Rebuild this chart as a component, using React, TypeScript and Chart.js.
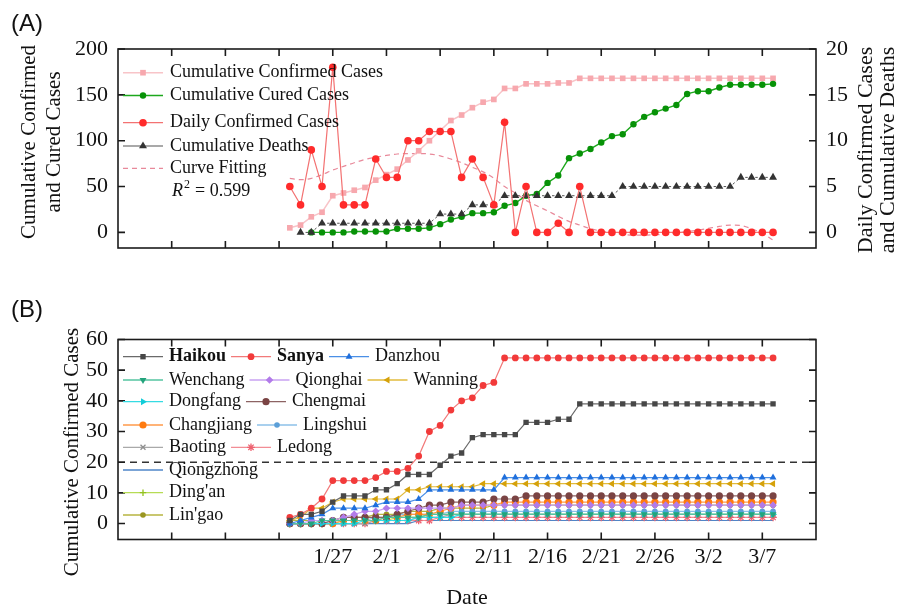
import React, { useEffect, useRef } from 'react';
import { Chart, registerables } from 'chart.js';
import { drawPoint } from 'chart.js/helpers';

Chart.register(...registerables);

const SERIF = '"Liberation Serif", "Times New Roman", serif';
const SANS = '"Liberation Sans", Arial, sans-serif';

// ---------- shared date axis ----------
const dates = [
  '1/23', '1/24', '1/25', '1/26', '1/27', '1/28', '1/29', '1/30', '1/31',
  '2/1', '2/2', '2/3', '2/4', '2/5', '2/6', '2/7', '2/8', '2/9', '2/10',
  '2/11', '2/12', '2/13', '2/14', '2/15', '2/16', '2/17', '2/18', '2/19', '2/20',
  '2/21', '2/22', '2/23', '2/24', '2/25', '2/26', '2/27', '2/28', '2/29',
  '3/1', '3/2', '3/3', '3/4', '3/5', '3/6', '3/7', '3/8',
];
const tickDates = ['1/12', '1/17', '1/22', '1/27', '2/1', '2/6', '2/11', '2/16', '2/21', '2/26', '3/2', '3/7'];
const tickLabels = ['', '', '', '1/27', '2/1', '2/6', '2/11', '2/16', '2/21', '2/26', '3/2', '3/7'];
const axisStartDate = '1/7';
const axisEndDate = '3/12';

// ---------- panel A ----------
const cumConfirmed = [
  5, 8, 17, 22, 40, 43, 46, 49, 57,
  63, 69, 79, 89, 100, 111, 122, 128, 136, 142,
  145, 157, 157, 162, 162, 162, 163, 163, 168, 168,
  168, 168, 168, 168, 168, 168, 168, 168, 168,
  168, 168, 168, 168, 168, 168, 168, 168,
];
const cumCured = [
  null, null, 0, 0, 0, 0, 1, 1, 1,
  1, 4, 4, 4, 5, 9, 14, 17, 21, 21,
  22, 29, 32, 40, 42, 54, 62, 81, 86, 91,
  98, 105, 107, 118, 126, 131, 135, 139, 151,
  154, 154, 158, 161, 161, 161, 161, 162,
];
const dailyConfirmed = [
  5, 3, 9, 5, 18, 3, 3, 3, 8,
  6, 6, 10, 10, 11, 11, 11, 6, 8, 6,
  3, 12, 0, 5, 0, 0, 1, 0, 5, 0,
  0, 0, 0, 0, 0, 0, 0, 0, 0,
  0, 0, 0, 0, 0, 0, 0, 0,
];
const cumDeaths = [
  null, 0, 0, 1, 1, 1, 1, 1, 1,
  1, 1, 1, 1, 1, 2, 2, 2, 3, 3,
  3, 4, 4, 4, 4, 4, 4, 4, 4, 4,
  4, 4, 5, 5, 5, 5, 5, 5, 5,
  5, 5, 5, 5, 6, 6, 6, 6,
];
const curveFit = [
  5.9, 5.75, 5.9, 6.3, 6.8, 7.2, 7.6, 7.95, 8.2,
  8.4, 8.55, 8.6, 8.6, 8.55, 8.35, 8.0, 7.6, 7.1, 6.6,
  5.9, 5.0, 4.3, 3.5, 2.9, 2.35, 1.75, 1.2, 0.8, 0.4,
  0.15, 0.0, -0.2, -0.3, -0.3, -0.25, -0.2, -0.05, 0.1,
  0.25, 0.45, 0.65, 0.8, 0.75, 0.4, -0.1, -0.85,
];
const r2Text = '0.599';
const leftTicksA = [0, 50, 100, 150, 200];
const rightTicksA = [0, 5, 10, 15, 20];

// ---------- panel B ----------
const cityNames = ['Haikou', 'Sanya', 'Danzhou', 'Wenchang', 'Qionghai', 'Wanning', 'Dongfang', 'Chengmai',
  'Changjiang', 'Lingshui', 'Baoting', 'Ledong', 'Qiongzhong', "Ding'an", "Lin'gao"];
const haikou = [
  1, 3, 3, 4, 7, 9, 9, 9, 11,
  11, 13, 16, 16, 16, 19, 22, 23, 28, 29,
  29, 29, 29, 33, 33, 33, 34, 34, 39, 39,
  39, 39, 39, 39, 39, 39, 39, 39, 39,
  39, 39, 39, 39, 39, 39, 39, 39,
];
const sanya = [
  2, 3, 5, 8, 14, 14, 14, 14, 15,
  17, 17, 18, 22, 30, 32, 37, 40, 41, 45,
  46, 54, 54, 54, 54, 54, 54, 54, 54, 54,
  54, 54, 54, 54, 54, 54, 54, 54, 54,
  54, 54, 54, 54, 54, 54, 54, 54,
];
const danzhou = [
  0, 1, 2, 3, 5, 5, 5, 5, 6,
  7, 7, 7, 8, 11, 11, 11, 11, 11, 11,
  11, 15, 15, 15, 15, 15, 15, 15, 15, 15,
  15, 15, 15, 15, 15, 15, 15, 15, 15,
  15, 15, 15, 15, 15, 15, 15, 15,
];
const wenchang = [
  0, 0, 0, 1, 1, 1, 1, 1, 1,
  2, 2, 2, 2, 3, 3, 3, 3, 3, 3,
  3, 3, 3, 3, 3, 3, 3, 3, 3, 3,
  3, 3, 3, 3, 3, 3, 3, 3, 3,
  3, 3, 3, 3, 3, 3, 3, 3,
];
const qionghai = [
  0, 0, 1, 1, 1, 2, 3, 4, 4,
  5, 5, 5, 5, 5, 5, 5, 6, 6, 6,
  6, 6, 6, 6, 6, 6, 6, 6, 6, 6,
  6, 6, 6, 6, 6, 6, 6, 6, 6,
  6, 6, 6, 6, 6, 6, 6, 6,
];
const wanning = [
  1, 2, 5, 5, 7, 8, 8, 8, 8,
  8, 8, 11, 11, 12, 12, 12, 12, 12, 13,
  13, 13, 13, 13, 13, 13, 13, 13, 13, 13,
  13, 13, 13, 13, 13, 13, 13, 13, 13,
  13, 13, 13, 13, 13, 13, 13, 13,
];
const dongfang = [
  0, 0, 0, 0, 0, 0, 0, 1, 1,
  1, 1, 1, 2, 2, 2, 2, 3, 3, 3,
  3, 3, 3, 3, 3, 3, 3, 3, 3, 3,
  3, 3, 3, 3, 3, 3, 3, 3, 3,
  3, 3, 3, 3, 3, 3, 3, 3,
];
const chengmai = [
  0, 0, 0, 0, 1, 2, 2, 2, 2,
  2, 3, 4, 5, 6, 6, 7, 7, 7, 7,
  8, 8, 8, 9, 9, 9, 9, 9, 9, 9,
  9, 9, 9, 9, 9, 9, 9, 9, 9,
  9, 9, 9, 9, 9, 9, 9, 9,
];
const changjiang = [
  0, 0, 0, 0, 0, 1, 1, 1, 1,
  2, 2, 3, 3, 3, 4, 5, 6, 6, 6,
  6, 7, 7, 7, 7, 7, 7, 7, 7, 7,
  7, 7, 7, 7, 7, 7, 7, 7, 7,
  7, 7, 7, 7, 7, 7, 7, 7,
];
const lingshui = [
  0, 0, 0, 0, 1, 1, 1, 1, 2,
  2, 3, 3, 3, 3, 3, 4, 4, 4, 4,
  4, 4, 4, 4, 4, 4, 4, 4, 4, 4,
  4, 4, 4, 4, 4, 4, 4, 4, 4,
  4, 4, 4, 4, 4, 4, 4, 4,
];
const baoting = [
  0, 0, 0, 0, 0, 0, 0, 0, 1,
  1, 1, 1, 2, 2, 2, 3, 3, 3, 3,
  3, 3, 3, 3, 3, 3, 3, 3, 3, 3,
  3, 3, 3, 3, 3, 3, 3, 3, 3,
  3, 3, 3, 3, 3, 3, 3, 3,
];
const ledong = [
  0, 0, 0, 0, 0, 0, 0, 0, 1,
  1, 1, 1, 1, 1, 2, 2, 2, 2, 2,
  2, 2, 2, 2, 2, 2, 2, 2, 2, 2,
  2, 2, 2, 2, 2, 2, 2, 2, 2,
  2, 2, 2, 2, 2, 2, 2, 2,
];
const qiongzhong = [
  0, 0, 0, 0, 0, 0, 0, 0, 0,
  0, 0, 0, 1, 1, 1, 1, 1, 1, 1,
  1, 1, 1, 1, 1, 1, 1, 1, 1, 1,
  1, 1, 1, 1, 1, 1, 1, 1, 1,
  1, 1, 1, 1, 1, 1, 1, 1,
];
const dingan = [
  0, 0, 0, 0, 0, 1, 1, 1, 1,
  1, 2, 2, 2, 3, 3, 3, 3, 3, 3,
  3, 3, 3, 3, 3, 3, 3, 3, 3, 3,
  3, 3, 3, 3, 3, 3, 3, 3, 3,
  3, 3, 3, 3, 3, 3, 3, 3,
];
const lingao = [
  1, 1, 1, 1, 1, 2, 2, 2, 3,
  3, 3, 4, 4, 4, 5, 5, 5, 5, 5,
  6, 6, 6, 6, 6, 6, 6, 6, 6, 6,
  6, 6, 6, 6, 6, 6, 6, 6, 6,
  6, 6, 6, 6, 6, 6, 6, 6,
];
const citySeries = [haikou, sanya, danzhou, wenchang, qionghai, wanning, dongfang, chengmai,
  changjiang, lingshui, baoting, ledong, qiongzhong, dingan, lingao];
const thresholdValue = 20;
const leftTicksB = [0, 10, 20, 30, 40, 50, 60];

// ---------- styles ----------
const cityStyles = [
  { line: '#6a6a6a', point: '#474747', style: 'rect', r: 3.8, rot: 0, bw: 0, bold: true },
  { line: '#f27a7a', point: '#f23a3a', style: 'circle', r: 3.4, rot: 0, bw: 0, bold: true },
  { line: '#4a8fe6', point: '#1f6fdc', style: 'triangle', r: 4, rot: 0, bw: 0 },
  { line: '#55c4a0', point: '#24a37c', style: 'triangle', r: 4, rot: 180, bw: 0 },
  { line: '#c9a2f2', point: '#b27be9', style: 'rectRot', r: 3.8, rot: 0, bw: 0 },
  { line: '#e2bb3c', point: '#d5a10a', style: 'triangle', r: 4, rot: -90, bw: 0 },
  { line: '#35dbe3', point: '#12ccd8', style: 'triangle', r: 4, rot: 90, bw: 0 },
  { line: '#8d6363', point: '#7a4444', style: 'circle', r: 3.6, rot: 0, bw: 0 },
  { line: '#ff9a4a', point: '#ff7b10', style: 'circle', r: 3.6, rot: 0, bw: 0 },
  { line: '#8cc0e8', point: '#5b9fd8', style: 'circle', r: 2.8, rot: 0, bw: 0 },
  { line: '#a9a9a9', point: '#8e8e8e', style: 'crossRot', r: 3.5, rot: 0, bw: 1.3 },
  { line: '#f28d95', point: '#ee6270', style: 'star', r: 3.8, rot: 0, bw: 1.3 },
  { line: '#4f86c8', point: '#3b73ba', style: 'circle', r: 0, rot: 0, bw: 0 },
  { line: '#b6dc55', point: '#93c21e', style: 'cross', r: 3.2, rot: 0, bw: 1.3 },
  { line: '#b7b440', point: '#9a9622', style: 'circle', r: 2.8, rot: 0, bw: 0 },
];

const dayOf = (s: string) => {
  const [m, d] = s.split('/').map(Number);
  return Math.round((Date.UTC(2020, m - 1, d) - Date.UTC(2020, 0, 22)) / 86400000);
};
const tickValues = tickDates.map(dayOf);
const xMin = dayOf(axisStartDate);
const xMax = dayOf(axisEndDate);
const pts = (vals: (number | null)[]) => vals.map((v, i) => ({ x: dayOf(dates[i]), y: v }));

// ---------- plugins ----------
const frameTicks = {
  id: 'frameTicks',
  afterDatasetsDraw(chart: any) {
    const { ctx, chartArea: a } = chart;
    const L = 7;
    ctx.save();
    ctx.strokeStyle = '#1b1b1b';
    ctx.lineWidth = 1.6;
    ctx.beginPath();
    const xs = chart.scales.x;
    xs.ticks.forEach((t: any) => {
      const p = xs.getPixelForValue(t.value);
      if (p <= a.left + 1 || p >= a.right - 1) return;
      ctx.moveTo(p, a.bottom); ctx.lineTo(p, a.bottom - L);
      ctx.moveTo(p, a.top); ctx.lineTo(p, a.top + L);
    });
    const ys = chart.scales.y;
    ys.ticks.forEach((t: any) => {
      const p = ys.getPixelForValue(t.value);
      ctx.moveTo(a.left, p); ctx.lineTo(a.left + L, p);
      if (!chart.scales.y1) { ctx.moveTo(a.right, p); ctx.lineTo(a.right - L, p); }
    });
    if (chart.scales.y1) {
      const y1 = chart.scales.y1;
      y1.ticks.forEach((t: any) => {
        const p = y1.getPixelForValue(t.value);
        ctx.moveTo(a.right, p); ctx.lineTo(a.right - L, p);
      });
    }
    ctx.stroke();
    ctx.strokeRect(a.left, a.top, a.right - a.left, a.bottom - a.top);
    ctx.restore();
  },
};

const textPlugin = {
  id: 'texts',
  afterDraw(chart: any) {
    const items = chart.options.plugins.texts?.items || [];
    const ctx = chart.ctx;
    items.forEach((it: any) => {
      ctx.save();
      ctx.translate(it.x, it.y);
      if (it.rot) ctx.rotate(it.rot);
      ctx.font = it.font;
      ctx.fillStyle = it.color || '#111';
      ctx.textAlign = it.align || 'center';
      ctx.textBaseline = 'middle';
      ctx.fillText(it.text, 0, 0);
      ctx.restore();
    });
  },
};

const legendPlugin = {
  id: 'customLegend',
  afterDraw(chart: any) {
    const o = chart.options.plugins.customLegend;
    if (!o) return;
    const ctx = chart.ctx;
    ctx.save();
    o.rows.forEach((row: number[], r: number) => {
      let x = o.x0;
      const y = o.rowY[r];
      row.forEach((k: number) => {
        const e = o.entries[k];
        ctx.setLineDash(e.dash || []);
        ctx.strokeStyle = e.lineColor;
        ctx.lineWidth = e.lineWidth ?? 1.3;
        ctx.beginPath(); ctx.moveTo(x, y); ctx.lineTo(x + o.sample, y); ctx.stroke();
        ctx.setLineDash([]);
        if (e.pointStyle && e.radius > 0) {
          ctx.fillStyle = e.pointColor;
          ctx.strokeStyle = e.pointColor;
          ctx.lineWidth = e.pointBorderWidth || 1;
          drawPoint(ctx, { pointStyle: e.pointStyle, radius: e.radius, rotation: e.rotation || 0, borderWidth: e.pointBorderWidth || 0 } as any, x + o.sample / 2, y);
        }
        ctx.font = `${e.bold ? 'bold ' : ''}${o.fontSize}px ${SERIF}`;
        ctx.fillStyle = '#111';
        ctx.textAlign = 'left';
        ctx.textBaseline = 'middle';
        ctx.fillText(e.label, x + o.sample + o.gap, y);
        x += o.sample + o.gap + ctx.measureText(e.label).width + o.after;
      });
    });
    ctx.restore();
  },
};

const baseX = (showLabels: boolean, height: number) => ({
  type: 'linear',
  min: xMin,
  max: xMax,
  afterBuildTicks: (axis: any) => { axis.ticks = tickValues.map((v) => ({ value: v })); },
  afterFit: (s: any) => { s.height = height; },
  grid: { display: false, drawTicks: false },
  border: { display: false },
  ticks: {
    display: showLabels,
    autoSkip: false,
    maxRotation: 0,
    padding: 5,
    color: '#111',
    font: { family: SERIF, size: 22 },
    callback: (v: any) => { const i = tickValues.indexOf(v); return i >= 0 ? tickLabels[i] : ''; },
  },
});

const yAxis = (pos: string, min: number, max: number, ticks: number[], width: number) => ({
  type: 'linear',
  position: pos,
  min,
  max,
  afterBuildTicks: (axis: any) => { axis.ticks = ticks.map((v) => ({ value: v })); },
  afterFit: (s: any) => { s.width = width; },
  grid: { display: false, drawTicks: false },
  border: { display: false },
  ticks: { padding: 10, color: '#111', font: { family: SERIF, size: 22 } },
});

export default function App() {
  const refA = useRef<HTMLCanvasElement>(null);
  const refB = useRef<HTMLCanvasElement>(null);

  useEffect(() => {
    const chartA = new Chart(refA.current as HTMLCanvasElement, {
      type: 'line',
      data: {
        datasets: [
          {
            label: 'Daily Confirmed Cases', data: pts(dailyConfirmed), yAxisID: 'y1',
            borderColor: '#f37272', borderWidth: 1.2, pointBackgroundColor: '#ff2b2b', pointBorderWidth: 0,
            pointStyle: 'circle', pointRadius: 3.8,
          },
          {
            label: 'Cumulative Deaths', data: pts(cumDeaths), yAxisID: 'y1',
            borderColor: '#555', borderWidth: 1, borderDash: [2.5, 2.5], pointBackgroundColor: '#333',
            pointBorderWidth: 0, pointStyle: 'triangle', pointRadius: 4.6,
          },
          {
            label: 'Cumulative Cured Cases', data: pts(cumCured), yAxisID: 'y',
            borderColor: '#1da81d', borderWidth: 1.4, pointBackgroundColor: '#079207', pointBorderWidth: 0,
            pointStyle: 'circle', pointRadius: 3.2,
          },
          {
            label: 'Cumulative Confirmed Cases', data: pts(cumConfirmed), yAxisID: 'y',
            borderColor: '#f8c4c8', borderWidth: 1.5, pointBackgroundColor: '#f7a8ae', pointBorderWidth: 0,
            pointStyle: 'rect', pointRadius: 4,
          },
          {
            label: 'Curve Fitting', data: pts(curveFit), yAxisID: 'y1',
            borderColor: '#e8899a', borderWidth: 1.2, borderDash: [5, 4], pointRadius: 0,
            cubicInterpolationMode: 'monotone',
          },
        ],
      },
      options: {
        responsive: false,
        animation: false,
        events: [],
        layout: { padding: { top: 49, left: 0, right: 0, bottom: 0 } },
        plugins: {
          legend: { display: false },
          tooltip: { enabled: false },
          texts: {
            items: [
              { text: '(A)', x: 27, y: 24, font: `24px ${SANS}` },
              { text: 'Cumulative Confirmed', x: 29, y: 142, rot: -Math.PI / 2, font: `21px ${SERIF}` },
              { text: 'and Cured Cases', x: 54, y: 142, rot: -Math.PI / 2, font: `21px ${SERIF}` },
              { text: 'Daily Confirmed Cases', x: 866.5, y: 150, rot: -Math.PI / 2, font: `22px ${SERIF}` },
              { text: 'and Cumulative Deaths', x: 888.5, y: 150, rot: -Math.PI / 2, font: `22px ${SERIF}` },
              { text: 'R', x: 172, y: 191.5, align: 'left', font: `italic 18px ${SERIF}` },
              { text: '2', x: 184, y: 185, align: 'left', font: `12px ${SERIF}` },
              { text: '= ' + r2Text, x: 195, y: 191.5, align: 'left', font: `18px ${SERIF}` },
            ],
          },
          customLegend: {
            x0: 123, sample: 40, gap: 7, after: 5, fontSize: 18,
            rowY: [72.7, 95.5, 122.7, 146, 168.3],
            rows: [[0], [1], [2], [3], [4]],
            entries: [
              { label: 'Cumulative Confirmed Cases', lineColor: '#f8c4c8', lineWidth: 1.5, pointStyle: 'rect', pointColor: '#f7a8ae', radius: 4 },
              { label: 'Cumulative Cured Cases', lineColor: '#1da81d', lineWidth: 1.5, pointStyle: 'circle', pointColor: '#079207', radius: 3.2 },
              { label: 'Daily Confirmed Cases', lineColor: '#f37272', lineWidth: 1.3, pointStyle: 'circle', pointColor: '#ff2b2b', radius: 3.8 },
              { label: 'Cumulative Deaths', lineColor: '#555', lineWidth: 1.2, pointStyle: 'triangle', pointColor: '#333', radius: 4.6 },
              { label: 'Curve Fitting', lineColor: '#e8899a', lineWidth: 1.2, dash: [5, 4] },
            ],
          },
        } as any,
        scales: {
          x: baseX(false, 42) as any,
          y: yAxis('left', -17, 200, leftTicksA, 118) as any,
          y1: yAxis('right', -1.7, 20, rightTicksA, 90) as any,
        },
      },
      plugins: [frameTicks, textPlugin, legendPlugin],
    });

    const cityDatasets = citySeries.map((vals, i) => {
      const s = cityStyles[i];
      return {
        label: cityNames[i], data: pts(vals), yAxisID: 'y',
        borderColor: s.line, borderWidth: 1.2,
        pointStyle: s.style, pointRadius: s.r, pointRotation: s.rot,
        pointBackgroundColor: s.point, pointBorderColor: s.point, pointBorderWidth: s.bw,
      };
    });
    const chartB = new Chart(refB.current as HTMLCanvasElement, {
      type: 'line',
      data: {
        datasets: [
          ...cityDatasets,
          {
            label: 'threshold', data: [{ x: xMin, y: thresholdValue }, { x: xMax, y: thresholdValue }], yAxisID: 'y',
            borderColor: '#333', borderWidth: 1.6, borderDash: [7, 5], pointRadius: 0,
          },
        ] as any,
      },
      options: {
        responsive: false,
        animation: false,
        events: [],
        layout: { padding: { top: 49.5, left: 0, right: 90, bottom: 0 } },
        plugins: {
          legend: { display: false },
          tooltip: { enabled: false },
          texts: {
            items: [
              { text: '(B)', x: 27, y: 20, font: `24px ${SANS}` },
              { text: 'Cumulative Confirmed Cases', x: 72, y: 162, rot: -Math.PI / 2, font: `21px ${SERIF}` },
              { text: 'Date', x: 467, y: 308, font: `22px ${SERIF}` },
            ],
          },
          customLegend: {
            x0: 123, sample: 40, gap: 6, after: 5, fontSize: 18,
            rowY: [66.7, 90, 111.7, 135, 157.3, 180, 202.7, 225],
            rows: [[0, 1, 2], [3, 4, 5], [6, 7], [8, 9], [10, 11], [12], [13], [14]],
            entries: cityStyles.map((s, i) => ({
              label: cityNames[i], bold: !!s.bold, lineColor: s.line, lineWidth: 1.3,
              pointStyle: s.style, pointColor: s.point, radius: s.r, rotation: s.rot, pointBorderWidth: s.bw,
            })),
          },
        } as any,
        scales: {
          x: baseX(true, 69.5) as any,
          y: yAxis('left', -5.2, 60, leftTicksB, 118) as any,
        },
      },
      plugins: [frameTicks, textPlugin, legendPlugin],
    });

    return () => { chartA.destroy(); chartB.destroy(); };
  }, []);

  return (
    <div style={{ position: 'absolute', left: 0, top: 0, width: 906, height: 609, background: '#fff' }}>
      <canvas ref={refA} width={906} height={290} style={{ position: 'absolute', left: 0, top: 0, width: 906, height: 290 }} />
      <canvas ref={refB} width={906} height={319} style={{ position: 'absolute', left: 0, top: 290, width: 906, height: 319 }} />
    </div>
  );
}
